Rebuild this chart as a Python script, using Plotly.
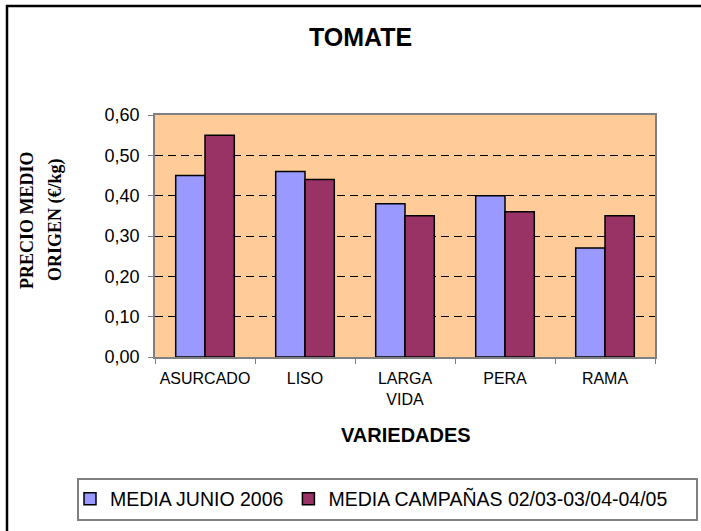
import plotly.graph_objects as go

categories = ["ASURCADO", "LISO", "LARGA<br>VIDA", "PERA", "RAMA"]
media_junio_2006 = [0.45, 0.46, 0.38, 0.40, 0.27]
media_campanas = [0.55, 0.44, 0.35, 0.36, 0.35]
series_names = ["MEDIA JUNIO 2006", "MEDIA CAMPAÑAS 02/03-03/04-04/05"]
y_ticks = [0.0, 0.1, 0.2, 0.3, 0.4, 0.5, 0.6]

SANS = "Liberation Sans, Arial, sans-serif"
SERIF = "Liberation Serif, Times New Roman, serif"

fig = go.Figure()
fig.add_trace(go.Bar(x=categories, y=media_junio_2006, name=series_names[0],
                     marker=dict(color="#9999FF", line=dict(color="black", width=1.5))))
fig.add_trace(go.Bar(x=categories, y=media_campanas, name=series_names[1],
                     marker=dict(color="#993366", line=dict(color="black", width=1.5))))

L, R, T, B = 155, 46, 115, 174
W, H = 701, 531
pw, ph = W - L - R, H - T - B

def px(x):
    return (x - L) / pw

def py(y):
    return (H - B - y) / ph

def ann(text, x, y, size, family, angle=0):
    return dict(text=text, x=px(x), y=py(y), xref="paper", yref="paper",
                xanchor="center", yanchor="middle", showarrow=False,
                textangle=angle, font=dict(size=size, family=family))

fig.update_layout(
    width=W, height=H,
    margin=dict(l=L, r=R, t=T, b=B, pad=0),
    paper_bgcolor="white",
    plot_bgcolor="#FFCC99",
    separators=",.",
    barmode="group",
    bargap=0.414,
    bargroupgap=0,
    font=dict(family=SANS, color="black"),
    showlegend=True,
    legend=dict(orientation="h", x=px(70), xanchor="left", y=py(499), yanchor="middle",
                font=dict(size=19.5, family=SANS), bgcolor="rgba(0,0,0,0)",
                borderwidth=0, itemclick=False, traceorder="normal"),
    xaxis=dict(type="category", tickson="boundaries", ticks="outside", ticklen=5,
               tickcolor="#808080", showline=True, linecolor="#808080", linewidth=1.5,
               mirror=True, tickfont=dict(size=16, family=SANS), showgrid=False,
               ticklabelstandoff=6),
    yaxis=dict(range=[0, 0.6], tickvals=y_ticks, tickformat=".2f", ticks="outside",
               ticklen=5, tickcolor="#808080", showline=True, linecolor="#808080",
               linewidth=1.5, mirror=True, tickfont=dict(size=18, family=SANS),
               showgrid=True, gridcolor="black", gridwidth=1, griddash="8px,5px",
               zeroline=False, ticklabelstandoff=5),
    annotations=[
        ann("<b>TOMATE</b>", 360, 37, 25, SANS),
        ann("<b>VARIEDADES</b>", 406, 435, 20, SANS),
        ann("<b>PRECIO MEDIO</b>", 27, 220, 18, SERIF, -90),
        ann("<b>ORIGEN (€/kg)</b>", 55, 220, 18, SERIF, -90),
    ],
    shapes=[
        dict(type="line", xref="paper", yref="paper", x0=px(6), x1=px(705), y0=py(6), y1=py(6),
             line=dict(color="black", width=2.5), layer="above"),
        dict(type="line", xref="paper", yref="paper", x0=px(7), x1=px(7), y0=py(5), y1=py(535),
             line=dict(color="black", width=2.5), layer="above"),
        dict(type="rect", xref="paper", yref="paper", x0=px(78), x1=px(697), y0=py(520), y1=py(479),
             line=dict(color="#808080", width=2), layer="above"),
    ],
)

fig.write_html("out.html", config={"displayModeBar": False},
               post_script="document.body.style.margin='0';document.body.style.overflow='hidden';")
